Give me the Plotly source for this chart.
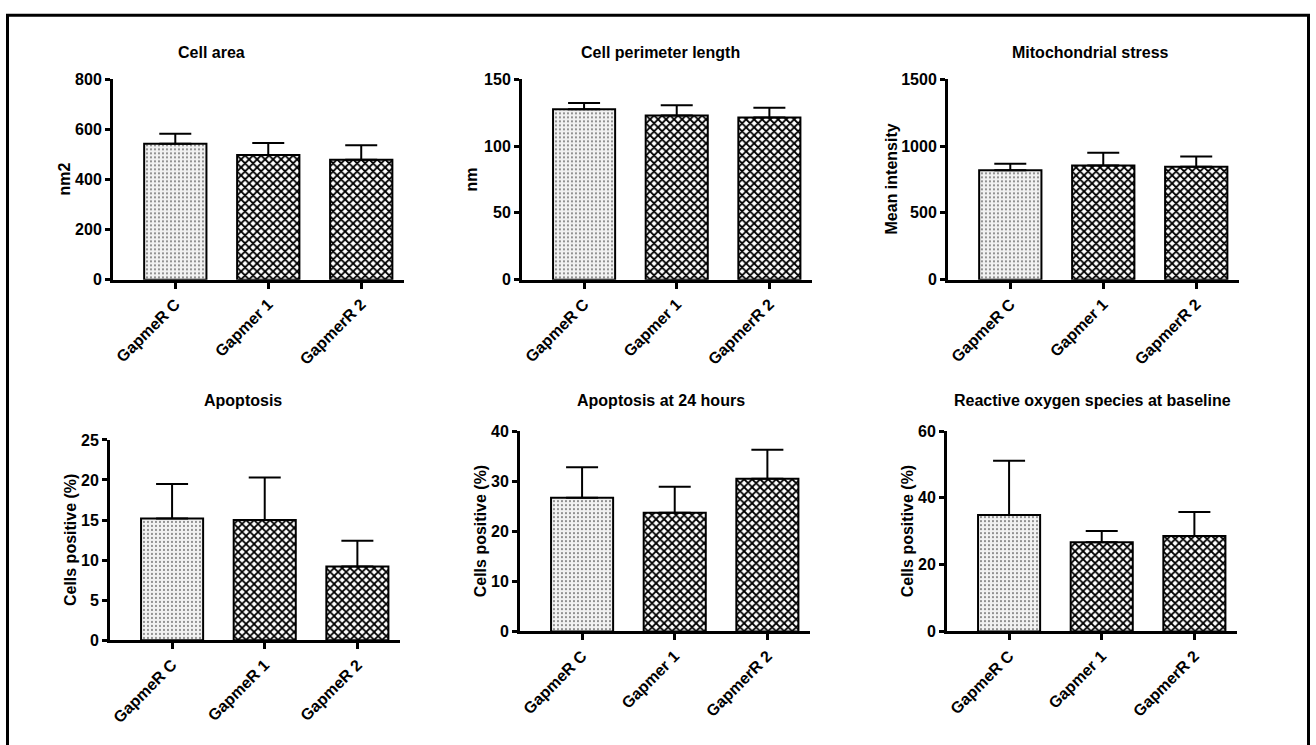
import plotly.graph_objects as go

W, H = 1316, 745

# ---------------- data ----------------
cats_a = ["GapmeR C", "Gapmer 1", "GapmerR 2"]
cats_b = ["GapmeR C", "GapmeR 1", "GapmeR 2"]

titles = ["Cell area", "Cell perimeter length", "Mitochondrial stress",
          "Apoptosis", "Apoptosis at 24 hours", "Reactive oxygen species at baseline"]
ytitles = ["nm2", "nm", "Mean intensity",
           "Cells positive (%)", "Cells positive (%)", "Cells positive (%)"]

cell_area_mean = [543, 498, 479]
cell_area_sem = [40, 48, 58]

perimeter_mean = [127.6, 122.9, 121.5]
perimeter_sem = [4.6, 7.6, 7.3]

mito_mean = [820, 854, 846]
mito_sem = [48, 97, 76]

apoptosis_mean = [15.2, 15.0, 9.2]
apoptosis_sem = [4.3, 5.3, 3.2]

apoptosis24_mean = [26.7, 23.7, 30.5]
apoptosis24_sem = [6.1, 5.2, 5.8]

ros_mean = [34.9, 26.7, 28.6]
ros_sem = [16.2, 3.4, 7.2]

y_max = [800, 150, 1500, 25, 40, 60]
y_dtick = [200, 50, 500, 5, 10, 20]

series = [
    (cats_a, cell_area_mean, cell_area_sem),
    (cats_a, perimeter_mean, perimeter_sem),
    (cats_a, mito_mean, mito_sem),
    (cats_b, apoptosis_mean, apoptosis_sem),
    (cats_a, apoptosis24_mean, apoptosis24_sem),
    (cats_a, ros_mean, ros_sem),
]

# ---------------- layout geometry (pixels) ----------------
# plot-area left, right, top, bottom ; y-title x centre ; title centre x ; title baseline y
geom = [
    (113, 404, 73, 278, 64, 211, 51),
    (522, 812, 73, 278, 471, 661, 51),
    (948, 1239, 73, 278, 891, 1090, 51),
    (110, 400, 442, 647, 70, 243, 407),
    (520, 810, 433, 638, 480, 661, 407),
    (947, 1237, 433, 638, 907, 1092, 407),
]

FONT = "Liberation Sans, Arial, Helvetica, sans-serif"

def fx(px):
    return px / W

def fy(py):
    return 1 - py / H

fig = go.Figure()
layout = dict(
    width=W, height=H, autosize=False,
    margin=dict(l=0, r=0, t=0, b=0, pad=0),
    paper_bgcolor="white", plot_bgcolor="white",
    showlegend=False,
    font=dict(family=FONT, size=16, color="black"),
)
annotations = []

for i, ((cats, mean, sem), (l, r, t, b, ytx, tcx, tby)) in enumerate(zip(series, geom)):
    n = "" if i == 0 else str(i + 1)
    xa, ya = "x" + n, "y" + n
    fig.add_trace(go.Bar(
        x=cats, y=mean, xaxis=xa, yaxis=ya, width=0.67,
        marker=dict(
            color="white",
            line=dict(color="black", width=2),
            pattern=dict(
                shape=[".", "x", "x"],
                size=[4, 5.66, 5.66],
                solidity=[0.12, 0.52, 0.52],
                fgcolor=["#111111", "black", "black"],
                bgcolor=["#f1f1f1", "white", "white"],
                fillmode="replace",
            ),
        ),
        error_y=dict(type="data", array=sem, arrayminus=[0] * len(sem),
                     symmetric=False, color="black", thickness=2, width=16),
        hoverinfo="skip",
    ))
    layout["xaxis" + n] = dict(
        domain=[fx(l), fx(r)], anchor=ya, type="category",
        categoryorder="array", categoryarray=cats,
        range=[-0.67, 2.46],
        showline=True, linecolor="black", linewidth=3,
        ticks="outside", ticklen=6, tickwidth=2.5, tickcolor="black",
        tickangle=-45, showgrid=False, zeroline=False,
        tickfont=dict(family=FONT, size=16, color="black", weight="bold"),
    )
    layout["yaxis" + n] = dict(
        domain=[fy(b), fy(t)], anchor=xa,
        range=[0, y_max[i]], dtick=y_dtick[i], tick0=0,
        showline=True, linecolor="black", linewidth=3,
        ticks="outside", ticklen=5, tickwidth=2.5, tickcolor="black",
        showgrid=False, zeroline=False,
        tickfont=dict(family=FONT, size=16, color="black", weight="bold"),
    )
    annotations.append(dict(
        text=titles[i], xref="paper", yref="paper",
        x=fx(tcx), y=fy(tby - 5.5), xanchor="center", yanchor="middle",
        showarrow=False, font=dict(family=FONT, size=16, color="black", weight="bold"),
    ))
    annotations.append(dict(
        text=ytitles[i], xref="paper", yref="paper",
        x=fx(ytx), y=fy((t + b) / 2), xanchor="center", yanchor="middle",
        textangle=-90, showarrow=False,
        font=dict(family=FONT, size=16, color="black", weight="bold"),
    ))

layout["annotations"] = annotations
layout["shapes"] = [dict(
    type="rect", xref="paper", yref="paper",
    x0=fx(7.5), x1=fx(1308.5), y0=-0.05, y1=fy(7.5),
    line=dict(color="black", width=3), fillcolor="rgba(0,0,0,0)", layer="above",
)]
fig.update_layout(**layout)

fig.write_html("out.html", config={"displayModeBar": False},
               post_script="document.body.style.margin='0px';document.body.style.overflow='hidden';")
